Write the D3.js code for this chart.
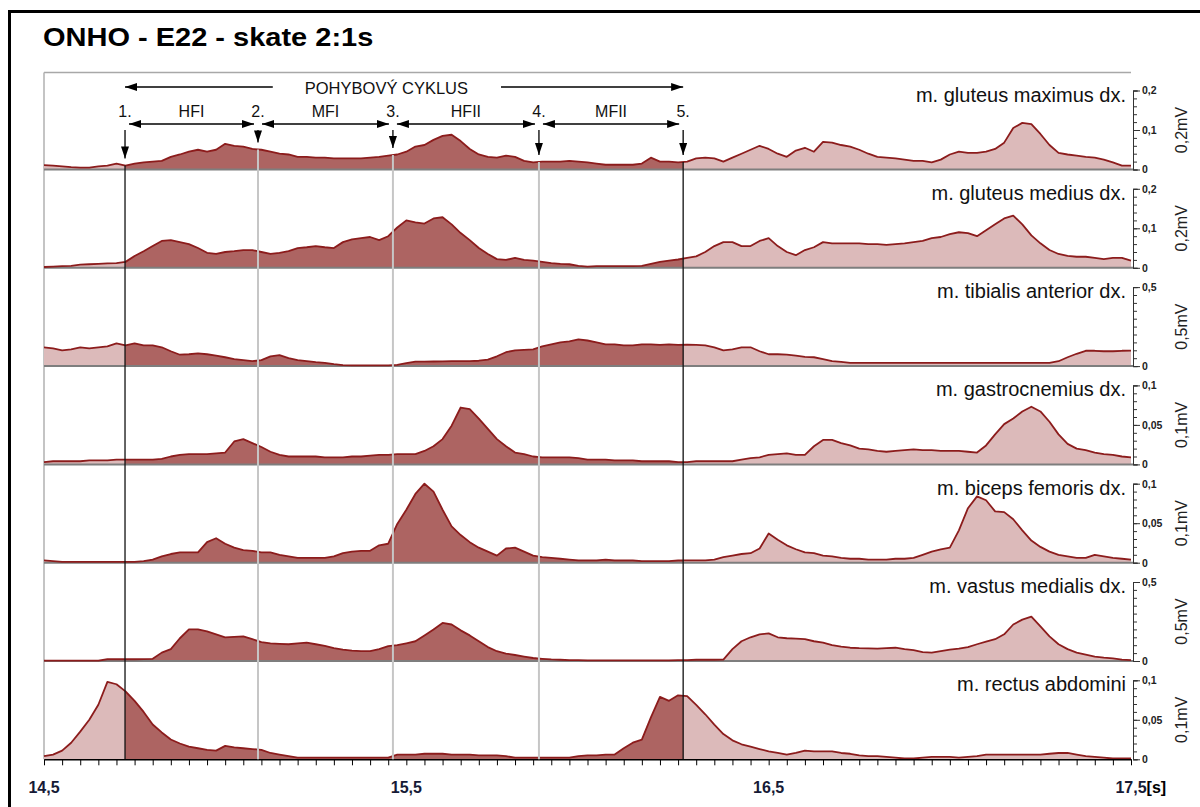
<!DOCTYPE html>
<html><head><meta charset="utf-8">
<script src="https://cdn.jsdelivr.net/npm/d3@7"></script>
<style>
html,body{margin:0;padding:0;background:#fff;}
svg{display:block;font-family:"Liberation Sans",Arial,Helvetica,sans-serif;}
</style></head><body>
<svg id="chart" width="1200" height="807"></svg>
<script>
// ---------------- data ----------------
const title = "ONHO - E22 - skate 2:1s";
const muscles = ["m. gluteus maximus dx.","m. gluteus medius dx.","m. tibialis anterior dx.","m. gastrocnemius dx.","m. biceps femoris dx.","m. vastus medialis dx.","m. rectus abdomini"];
const units = ["0,2mV","0,2mV","0,5mV","0,1mV","0,1mV","0,5mV","0,1mV"];
const scaleMax = [0.2,0.2,0.5,0.1,0.1,0.5,0.1];
const scaleTickValues = [[0,0.1,0.2],[0,0.1,0.2],[0,0.5],[0,0.05,0.1],[0,0.05,0.1],[0,0.5],[0,0.05,0.1]];
const scaleTickLabels = [["0","0,1","0,2"],["0","0,1","0,2"],["0","0,5"],["0","0,05","0,1"],["0","0,05","0,1"],["0","0,5"],["0","0,05","0,1"]];
const tStart = 14.5, tStep = 0.025;   // sampling grid of the series (s)
const xDomain = [14.5, 17.5];
const xTickValues = [14.5, 15.5, 16.5, 17.5];
const xTickLabels = ["14,5","15,5","16,5","17,5"];
const xUnit = "[s]";
const events = [14.7236, 15.0906, 15.463, 15.866, 16.264];
const eventLabels = ["1.","2.","3.","4.","5."];
const phaseLabels = ["HFI","MFI","HFII","MFII"];
const cycleLabel = "POHYBOVÝ CYKLUS";
const cycleLabelT = 15.445;

// EMG envelopes (mV), one value per 0.025 s from 14.5 s to 17.5 s
const glutMax = [
0.011,0.010,0.008,0.006,0.005,0.005,0.008,0.010,0.015,0.010,
0.015,0.018,0.020,0.022,0.032,0.038,0.045,0.050,0.045,0.050,
0.065,0.060,0.058,0.052,0.050,0.045,0.040,0.038,0.032,0.032,
0.030,0.030,0.028,0.028,0.028,0.028,0.030,0.032,0.035,0.038,
0.045,0.058,0.062,0.075,0.085,0.088,0.072,0.052,0.038,0.032,
0.030,0.035,0.032,0.022,0.018,0.020,0.020,0.020,0.022,0.020,
0.018,0.015,0.012,0.012,0.012,0.012,0.015,0.030,0.020,0.020,
0.018,0.020,0.028,0.030,0.028,0.020,0.030,0.040,0.050,0.060,
0.052,0.040,0.032,0.048,0.055,0.045,0.070,0.068,0.062,0.058,
0.050,0.040,0.032,0.030,0.028,0.025,0.022,0.022,0.018,0.025,
0.038,0.045,0.042,0.042,0.045,0.052,0.068,0.105,0.118,0.115,
0.090,0.062,0.042,0.038,0.035,0.032,0.030,0.025,0.018,0.010,
0.010];
const glutMed = [
0.002,0.003,0.004,0.005,0.008,0.009,0.010,0.011,0.012,0.015,
0.030,0.042,0.055,0.068,0.070,0.065,0.060,0.050,0.038,0.035,
0.040,0.042,0.045,0.045,0.040,0.035,0.038,0.042,0.050,0.052,
0.055,0.052,0.050,0.065,0.072,0.075,0.078,0.070,0.080,0.102,
0.120,0.115,0.112,0.125,0.128,0.110,0.088,0.070,0.050,0.035,
0.022,0.020,0.025,0.020,0.018,0.015,0.012,0.010,0.009,0.005,
0.003,0.004,0.004,0.004,0.004,0.004,0.005,0.010,0.015,0.018,
0.021,0.025,0.029,0.040,0.055,0.065,0.065,0.055,0.055,0.068,
0.075,0.055,0.040,0.032,0.045,0.052,0.065,0.062,0.062,0.062,
0.062,0.060,0.060,0.058,0.060,0.062,0.065,0.068,0.075,0.078,
0.085,0.090,0.088,0.080,0.095,0.110,0.125,0.132,0.110,0.082,
0.062,0.045,0.035,0.030,0.028,0.028,0.025,0.022,0.025,0.025,
0.018];
const tibAnt = [
0.119,0.112,0.100,0.106,0.119,0.112,0.119,0.125,0.144,0.131,
0.144,0.131,0.131,0.119,0.094,0.072,0.075,0.081,0.075,0.066,
0.056,0.044,0.038,0.031,0.038,0.062,0.069,0.050,0.038,0.031,
0.025,0.021,0.012,0.006,0.004,0.004,0.004,0.004,0.004,0.008,
0.019,0.028,0.028,0.029,0.030,0.031,0.031,0.031,0.034,0.041,
0.062,0.088,0.100,0.103,0.106,0.125,0.138,0.150,0.156,0.169,
0.162,0.150,0.138,0.138,0.131,0.131,0.138,0.138,0.134,0.138,
0.134,0.136,0.134,0.131,0.119,0.100,0.106,0.119,0.119,0.094,
0.075,0.075,0.073,0.066,0.059,0.056,0.044,0.031,0.027,0.021,
0.021,0.021,0.020,0.021,0.020,0.021,0.021,0.020,0.021,0.021,
0.021,0.020,0.021,0.021,0.020,0.021,0.021,0.021,0.020,0.021,
0.021,0.021,0.031,0.056,0.078,0.097,0.097,0.094,0.094,0.097,
0.098];
const gastro = [
0.003,0.004,0.004,0.004,0.004,0.005,0.005,0.005,0.006,0.006,
0.006,0.006,0.006,0.007,0.010,0.012,0.013,0.013,0.013,0.014,
0.015,0.029,0.032,0.027,0.022,0.016,0.012,0.010,0.010,0.010,
0.010,0.009,0.009,0.009,0.010,0.010,0.011,0.012,0.012,0.013,
0.013,0.013,0.017,0.023,0.032,0.049,0.072,0.070,0.058,0.045,
0.032,0.023,0.015,0.013,0.010,0.009,0.009,0.009,0.009,0.008,
0.006,0.006,0.006,0.005,0.005,0.005,0.004,0.004,0.004,0.004,
0.003,0.003,0.004,0.004,0.004,0.004,0.004,0.006,0.008,0.009,
0.012,0.013,0.014,0.012,0.012,0.023,0.031,0.031,0.027,0.024,
0.020,0.019,0.017,0.016,0.017,0.018,0.019,0.018,0.018,0.017,
0.017,0.017,0.016,0.015,0.024,0.038,0.051,0.058,0.067,0.073,
0.067,0.054,0.038,0.026,0.020,0.018,0.015,0.013,0.012,0.010,
0.009];
const biceps = [
0.003,0.002,0.001,0.001,0.001,0.001,0.001,0.001,0.001,0.001,
0.001,0.002,0.004,0.008,0.011,0.013,0.013,0.013,0.026,0.031,
0.024,0.019,0.016,0.015,0.013,0.013,0.010,0.008,0.006,0.006,
0.006,0.006,0.008,0.012,0.014,0.015,0.015,0.022,0.024,0.049,
0.067,0.087,0.100,0.090,0.067,0.046,0.035,0.026,0.019,0.014,
0.009,0.018,0.019,0.014,0.009,0.007,0.006,0.005,0.004,0.003,
0.003,0.003,0.004,0.003,0.003,0.003,0.002,0.002,0.002,0.002,
0.003,0.003,0.003,0.003,0.004,0.007,0.009,0.011,0.012,0.018,
0.037,0.029,0.022,0.017,0.013,0.012,0.009,0.008,0.006,0.005,
0.005,0.004,0.004,0.004,0.005,0.005,0.006,0.010,0.014,0.017,
0.019,0.041,0.069,0.084,0.079,0.065,0.064,0.055,0.041,0.028,
0.020,0.014,0.010,0.008,0.006,0.006,0.010,0.008,0.006,0.005,
0.004];
const vastus = [
0.002,0.002,0.002,0.002,0.002,0.002,0.003,0.011,0.011,0.011,
0.011,0.012,0.014,0.053,0.075,0.144,0.200,0.200,0.188,0.169,
0.150,0.153,0.156,0.138,0.119,0.112,0.109,0.106,0.112,0.116,
0.106,0.095,0.081,0.072,0.066,0.062,0.062,0.075,0.094,0.100,
0.112,0.125,0.162,0.200,0.241,0.231,0.194,0.162,0.125,0.088,
0.062,0.047,0.038,0.028,0.019,0.014,0.010,0.008,0.006,0.005,
0.004,0.004,0.004,0.004,0.004,0.004,0.004,0.004,0.004,0.004,
0.006,0.006,0.008,0.008,0.008,0.009,0.075,0.125,0.150,0.169,
0.175,0.150,0.144,0.141,0.138,0.125,0.116,0.100,0.091,0.084,
0.081,0.080,0.078,0.081,0.084,0.075,0.069,0.056,0.053,0.062,
0.072,0.078,0.088,0.106,0.122,0.138,0.169,0.231,0.262,0.281,
0.219,0.156,0.106,0.075,0.053,0.041,0.028,0.021,0.016,0.009,
0.006];
const rectus = [
0.004,0.006,0.011,0.021,0.035,0.050,0.069,0.098,0.095,0.086,
0.074,0.060,0.044,0.034,0.025,0.020,0.016,0.014,0.012,0.011,
0.017,0.015,0.014,0.013,0.012,0.008,0.006,0.004,0.002,0.002,
0.002,0.002,0.002,0.002,0.002,0.002,0.002,0.002,0.002,0.006,
0.006,0.006,0.007,0.007,0.007,0.006,0.006,0.006,0.005,0.005,
0.005,0.004,0.002,0.002,0.002,0.002,0.002,0.002,0.002,0.004,
0.005,0.005,0.006,0.006,0.014,0.021,0.025,0.053,0.079,0.074,
0.081,0.080,0.069,0.057,0.044,0.032,0.024,0.019,0.016,0.013,
0.010,0.008,0.006,0.008,0.011,0.010,0.010,0.010,0.008,0.007,
0.005,0.004,0.004,0.003,0.002,0.001,0.001,0.002,0.003,0.003,
0.003,0.002,0.003,0.004,0.006,0.006,0.006,0.006,0.006,0.006,
0.006,0.007,0.008,0.008,0.006,0.004,0.003,0.002,0.001,0.001,
0.001];

// ---------------- styles / layout ----------------
const lightFill = "#dcbaba", darkFill = "#ad6462", lineColor = "#8c1c1c";
const panelBase0 = 169.5, panelStep = 98.3, panelH = 79;
const plotLeft = 44, plotRight = 1131, scaleX = 1133;

const svg = d3.select("#chart");
const W = 1200, H = 807;
const x = d3.scaleLinear().domain(xDomain).range([plotLeft, plotRight]);
const series = [glutMax, glutMed, tibAnt, gastro, biceps, vastus, rectus];
const times = glutMax.map((_, i) => tStart + i * tStep);
const bases = series.map((_, k) => panelBase0 + panelStep * k);
const yScales = series.map((_, k) => d3.scaleLinear().domain([0, scaleMax[k]]).range([bases[k], bases[k] - panelH]));
const bottom = bases[6];

function valueAt(data, t) {
  const f = (t - tStart) / tStep, i = Math.floor(f), r = f - i;
  return data[i] * (1 - r) + data[Math.min(i + 1, data.length - 1)] * r;
}

svg.append("rect").attr("width", W).attr("height", H).attr("fill", "#fff");

const defs = svg.append("defs");
defs.append("marker").attr("id", "ah").attr("viewBox", "0 0 10 10").attr("refX", 10).attr("refY", 5)
  .attr("markerWidth", 12).attr("markerHeight", 8).attr("markerUnits", "userSpaceOnUse")
  .attr("preserveAspectRatio", "none").attr("orient", "auto-start-reverse")
  .append("path").attr("d", "M0,0L10,5L0,10z").attr("fill", "#000");
defs.append("clipPath").attr("id", "darkClip").append("rect")
  .attr("x", x(events[0])).attr("y", 0).attr("width", x(events[4]) - x(events[0])).attr("height", H);

// outer frame
svg.append("path").attr("d", `M9.5,${H} V11.5 H${W}`).attr("fill", "none").attr("stroke", "#000").attr("stroke-width", 3);

// title
svg.append("text").attr("transform", "translate(43,46) scale(1.16,1)")
  .attr("font-size", 25).attr("font-weight", "bold").attr("fill", "#000").text(title);

// plot frame lines
svg.append("line").attr("x1", plotLeft).attr("x2", plotRight).attr("y1", 72.5).attr("y2", 72.5)
  .attr("stroke", "#a8a8a8").attr("stroke-width", 1.5);
svg.append("line").attr("x1", plotLeft).attr("x2", plotLeft).attr("y1", 72.5).attr("y2", bottom)
  .attr("stroke", "#b0b0b0").attr("stroke-width", 1.5);

// panels
series.forEach((data, k) => {
  const base = bases[k], y = yScales[k];
  const area = d3.area().x((d, i) => x(times[i])).y0(base).y1(d => y(d));
  const line = d3.line().x((d, i) => x(times[i])).y(d => y(d));
  const g = svg.append("g");
  g.append("path").datum(data).attr("d", area).attr("fill", lightFill);
  g.append("path").datum(data).attr("d", area).attr("fill", darkFill).attr("clip-path", "url(#darkClip)");
  if (k < 6) {
    g.append("line").attr("x1", plotLeft).attr("x2", scaleX).attr("y1", base).attr("y2", base)
      .attr("stroke", "#7e7e7e").attr("stroke-width", 2);
  }
  g.append("path").datum(data).attr("d", line).attr("fill", "none").attr("stroke", lineColor)
    .attr("stroke-width", 1.8).attr("stroke-linejoin", "round");

  // right-hand amplitude scale
  const minor = d3.axisRight(y).tickValues(d3.range(11).map(i => scaleMax[k] * i / 10))
    .tickSize(4).tickSizeOuter(5).tickFormat("");
  svg.append("g").attr("transform", `translate(${scaleX},0)`).attr("color", "#333").call(minor);
  const major = d3.axisRight(y).tickValues(scaleTickValues[k]).tickSize(7).tickPadding(2)
    .tickFormat((d, i) => scaleTickLabels[k][i]);
  const ga = svg.append("g").attr("transform", `translate(${scaleX},0)`).attr("color", "#333").call(major);
  ga.select(".domain").remove();
  ga.attr("font-family", null).attr("font-size", null);
  ga.selectAll("text").attr("font-size", 10.5).attr("font-weight", "bold").attr("fill", "#222");

  // unit label
  svg.append("text").attr("transform", `translate(1187,${base - panelH / 2}) rotate(-90)`)
    .attr("text-anchor", "middle").attr("font-size", 16).attr("fill", "#222").text(units[k]);
  // muscle label
  svg.append("text").attr("x", 1126).attr("y", base - 68).attr("text-anchor", "end")
    .attr("font-size", 20).attr("fill", "#111").text(muscles[k]);
});

// bottom time axis
const xa = d3.axisBottom(x).tickValues(d3.range(61).map(i => xDomain[0] + i * 0.05))
  .tickSize(6).tickSizeOuter(0).tickFormat("");
const gx = svg.append("g").attr("transform", `translate(0,${bottom})`).attr("color", "#000").call(xa);
gx.select(".domain").attr("stroke-width", 1.5);
xTickValues.forEach((v, i) => {
  const t = svg.append("text").attr("x", x(v)).attr("y", 793).attr("text-anchor", "middle")
    .attr("font-size", 16).attr("font-weight", "bold").attr("fill", "#161a36").text(xTickLabels[i]);
  if (i === xTickValues.length - 1) {
    const w = t.node().getComputedTextLength();
    svg.append("text").attr("x", x(v) + w / 2).attr("y", 793).attr("font-size", 16)
      .attr("font-weight", "bold").attr("fill", "#000").text(xUnit);
  }
});

// event lines
const y1 = yScales[0];
events.forEach((t, i) => {
  const xe = x(t);
  const vy = y1(valueAt(glutMax, t));
  const black = (i === 0 || i === events.length - 1);
  svg.append("line").attr("x1", xe).attr("x2", xe).attr("y1", vy).attr("y2", bottom)
    .attr("stroke", black ? "#111" : "#c6c6c6").attr("stroke-width", black ? 1.3 : 2);
  // down arrow
  svg.append("line").attr("x1", xe).attr("x2", xe).attr("y1", 130).attr("y2", vy - 7)
    .attr("stroke", "#000").attr("stroke-width", 1.3).attr("marker-end", "url(#ah)");
  svg.append("text").attr("x", xe).attr("y", 117).attr("text-anchor", "middle")
    .attr("font-size", 16).attr("fill", "#111").text(eventLabels[i]);
});
// phase arrows and labels
phaseLabels.forEach((lab, i) => {
  const a = x(events[i]), b = x(events[i + 1]);
  svg.append("line").attr("x1", a + 4).attr("x2", b - 4).attr("y1", 124).attr("y2", 124)
    .attr("stroke", "#000").attr("stroke-width", 1.3)
    .attr("marker-start", "url(#ah)").attr("marker-end", "url(#ah)");
  svg.append("text").attr("x", (a + b) / 2).attr("y", 117).attr("text-anchor", "middle")
    .attr("font-size", 16).attr("fill", "#111").text(lab);
});
// cycle label with arrows
const cl = svg.append("text").attr("x", x(cycleLabelT)).attr("y", 94).attr("text-anchor", "middle")
  .attr("font-size", 16.5).attr("fill", "#111").text(cycleLabel);
const bb = cl.node().getBBox();
svg.append("line").attr("x1", bb.x - 32).attr("x2", x(events[0])).attr("y1", 87).attr("y2", 87)
  .attr("stroke", "#000").attr("stroke-width", 1.3).attr("marker-end", "url(#ah)");
svg.append("line").attr("x1", bb.x + bb.width + 33).attr("x2", x(events[4])).attr("y1", 87).attr("y2", 87)
  .attr("stroke", "#000").attr("stroke-width", 1.3).attr("marker-end", "url(#ah)");
</script>
</body></html>
